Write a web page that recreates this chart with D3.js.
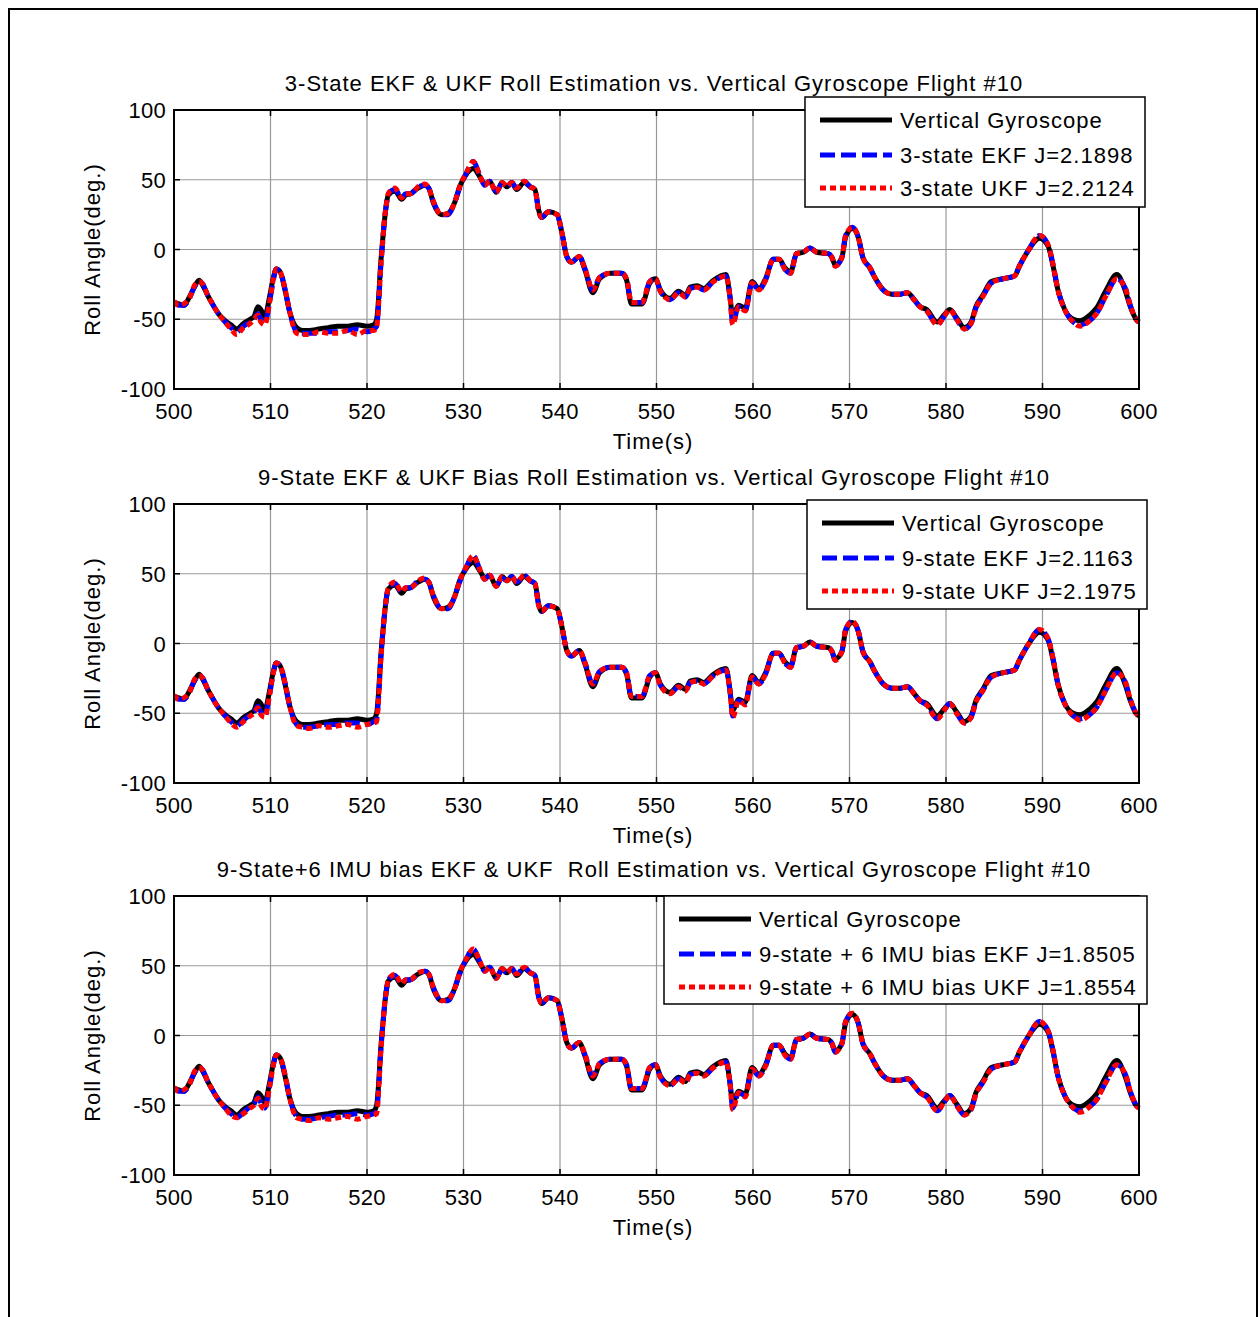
<!DOCTYPE html>
<html>
<head>
<meta charset="utf-8">
<script src="https://cdn.jsdelivr.net/npm/d3@7"></script>
<style>
  html, body { margin: 0; padding: 0; background: #fff; }
  svg { display: block; font-family: "Liberation Sans", Arial, Helvetica, sans-serif; }
  .lbl { letter-spacing: 1px; }
  .num { letter-spacing: 0.3px; }
</style>
</head>
<body>
<svg id="fig" width="1259" height="1317"></svg>
<script>
// Flight #10 roll angle, 500–600 s (deg.)
const timeS = [
  500.0,500.5,501.0,501.6,502.1,502.6,503.0,503.5,503.9,504.6,
  505.3,505.9,506.5,507.2,507.9,508.3,508.7,509.0,509.4,509.9,
  510.3,510.6,511.0,511.5,512.0,512.7,513.3,514.0,515.0,516.0,
  517.0,518.0,519.0,520.0,520.7,521.0,521.2,521.4,521.6,521.8,
  522.0,522.2,522.9,523.6,524.0,524.5,525.3,526.0,526.4,526.9,
  527.7,528.4,529.1,529.6,530.3,531.0,531.7,532.2,532.7,533.4,
  534.0,534.5,535.0,535.5,536.3,536.9,537.4,537.8,538.1,538.8,
  539.7,540.2,540.7,541.2,542.0,542.6,543.4,544.1,545.2,546.4,
  546.9,547.4,548.5,549.3,549.9,550.4,551.4,552.3,553.0,553.5,
  554.2,554.9,555.9,557.2,557.6,557.9,558.5,559.2,559.9,560.6,
  561.3,562.1,562.7,563.3,563.9,564.5,565.2,565.9,566.6,567.8,
  568.2,568.5,569.2,569.6,570.3,570.9,571.4,572.1,572.7,573.5,
  574.4,575.3,576.0,576.7,577.3,578.0,579.1,579.8,580.4,581.1,
  581.9,582.6,583.1,583.8,584.7,585.9,587.1,587.6,588.5,589.7,
  590.6,591.1,591.6,592.3,593.2,593.9,594.9,595.6,596.6,597.7,
  598.6,599.1,599.7,600.0
];

// Vertical gyroscope reference
const gyroRoll = [
  -38,-39,-40,-34,-27,-22,-26,-33,-38,-46,
  -51,-54,-57,-53,-50,-48,-41,-43,-48,-34,
  -20,-14,-16,-29,-45,-56,-58,-58,-57,-56,
  -55,-55,-54,-55,-54,-50,-35,-12,5,20,
  32,39,42,36,39,40,44,46,44,33,
  25,26,34,45,54,58,52,47,49,41,
  48,45,48,43,48,45,43,28,23,27,
  25,12,-5,-9,-5,-15,-31,-21,-17,-17,
  -22,-39,-39,-24,-21,-29,-35,-30,-33,-27,
  -26,-28,-22,-18,-33,-48,-40,-42,-23,-28,
  -21,-7,-7,-13,-16,-3,-2,1,-2,-3,
  -6,-11,-6,9,15,9,-6,-13,-21,-29,
  -32,-32,-31,-36,-41,-43,-52,-47,-43,-49,
  -56,-52,-41,-33,-23,-21,-19,-12,-1,8,
  2,-12,-29,-43,-50,-51,-47,-42,-29,-18,
  -30,-41,-50,-52
];

// 3-state filters
const ekf3 = [
  -38,-40,-40,-35,-27,-23,-25,-33,-38,-46,
  -52,-56,-59,-55,-52,-50,-46,-50,-53,-38,
  -22,-14,-16,-28,-45,-59,-60,-60,-60,-59,
  -59,-58,-57,-59,-57,-55,-40,-15,3,20,
  32,40,43,37,40,40,45,46,44,34,
  25,25,34,44,55,63,53,46,49,42,
  47,45,48,44,49,45,43,27,23,27,
  25,12,-5,-9,-5,-14,-29,-20,-17,-17,
  -21,-38,-38,-23,-21,-30,-36,-31,-34,-28,
  -27,-29,-23,-19,-33,-53,-41,-44,-24,-29,
  -22,-7,-7,-14,-17,-3,-2,1,-2,-3,
  -6,-12,-6,10,16,9,-6,-13,-21,-29,
  -32,-32,-31,-36,-41,-44,-54,-48,-43,-50,
  -57,-53,-42,-34,-24,-21,-19,-12,-1,10,
  3,-11,-29,-43,-52,-54,-51,-46,-33,-21,
  -28,-40,-50,-52
];
const ukf3 = [
  -37,-40,-39,-35,-26,-23,-25,-33,-38,-46,
  -52,-57,-61,-56,-53,-50,-47,-52,-54,-38,
  -21,-14,-16,-28,-45,-60,-61,-61,-59,-60,
  -60,-58,-61,-58,-58,-56,-40,-15,3,21,
  32,40,44,37,40,40,45,47,44,34,
  25,26,34,45,55,63,53,46,49,41,
  48,45,48,44,49,45,43,27,23,27,
  25,12,-5,-9,-5,-14,-29,-20,-17,-17,
  -21,-38,-38,-23,-21,-30,-36,-31,-34,-28,
  -27,-29,-23,-19,-33,-54,-41,-44,-24,-29,
  -22,-7,-7,-14,-17,-3,-2,1,-2,-3,
  -6,-12,-6,10,16,9,-6,-13,-21,-29,
  -32,-32,-31,-36,-41,-44,-54,-48,-43,-50,
  -57,-53,-42,-34,-24,-21,-19,-12,-1,10,
  3,-11,-29,-43,-52,-55,-51,-46,-33,-21,
  -28,-40,-50,-52
];

// 9-state bias filters
const ekf9 = [
  -38,-40,-40,-35,-27,-23,-25,-33,-38,-46,
  -52,-56,-59,-55,-51,-49,-45,-49,-52,-37,
  -21,-14,-16,-28,-45,-58,-60,-60,-59,-58,
  -58,-57,-57,-58,-56,-54,-39,-14,4,20,
  32,40,43,37,40,40,45,46,44,34,
  25,25,34,44,55,63,53,46,49,42,
  47,45,48,44,49,45,43,27,23,27,
  25,12,-5,-9,-5,-14,-29,-20,-17,-17,
  -21,-38,-38,-23,-21,-30,-36,-31,-34,-28,
  -27,-29,-23,-19,-33,-52,-41,-43,-24,-29,
  -22,-7,-7,-14,-17,-3,-2,1,-2,-3,
  -6,-12,-6,10,16,9,-6,-13,-21,-29,
  -32,-32,-31,-36,-41,-44,-54,-48,-43,-50,
  -57,-53,-42,-34,-24,-21,-19,-12,-1,10,
  3,-11,-29,-43,-52,-54,-51,-46,-33,-21,
  -28,-40,-50,-52
];
const ukf9 = [
  -37,-40,-39,-35,-26,-23,-25,-33,-38,-46,
  -52,-57,-60,-56,-52,-50,-46,-51,-53,-37,
  -21,-14,-16,-28,-45,-59,-60,-61,-59,-60,
  -59,-58,-60,-58,-57,-56,-40,-15,3,21,
  32,40,44,37,40,40,45,47,44,34,
  25,26,34,45,55,63,53,46,49,41,
  48,45,48,44,49,45,43,27,23,27,
  25,12,-5,-9,-5,-14,-29,-20,-17,-17,
  -21,-38,-38,-23,-21,-30,-36,-31,-34,-28,
  -27,-29,-23,-19,-33,-53,-41,-44,-24,-29,
  -22,-7,-7,-14,-17,-3,-2,1,-2,-3,
  -6,-12,-6,10,16,9,-6,-13,-21,-29,
  -32,-32,-31,-36,-41,-44,-54,-48,-43,-50,
  -57,-53,-42,-34,-24,-21,-19,-12,-1,10,
  3,-11,-29,-43,-52,-55,-51,-46,-33,-21,
  -28,-40,-50,-52
];

// 9-state + 6 IMU bias filters
const ekf15 = [
  -38,-40,-40,-35,-27,-23,-25,-33,-38,-46,
  -52,-56,-59,-55,-51,-49,-44,-48,-52,-37,
  -21,-14,-16,-28,-45,-58,-60,-60,-59,-58,
  -57,-57,-56,-57,-56,-54,-39,-14,4,20,
  32,40,43,37,40,40,44,46,44,34,
  25,25,34,44,55,62,53,46,49,42,
  47,45,48,44,49,45,43,27,23,27,
  25,12,-5,-9,-5,-14,-29,-20,-17,-17,
  -21,-38,-38,-23,-21,-30,-36,-31,-34,-28,
  -27,-29,-23,-19,-33,-52,-41,-43,-24,-29,
  -22,-7,-7,-14,-17,-3,-2,1,-2,-3,
  -6,-12,-6,10,16,9,-6,-13,-21,-29,
  -32,-32,-31,-36,-41,-44,-54,-48,-43,-50,
  -57,-53,-42,-34,-24,-21,-19,-12,-1,10,
  3,-11,-29,-43,-52,-54,-51,-46,-33,-21,
  -28,-40,-50,-52
];
const ukf15 = [
  -37,-40,-39,-35,-26,-23,-25,-33,-38,-46,
  -52,-57,-59,-56,-52,-50,-45,-50,-53,-37,
  -21,-14,-16,-28,-45,-59,-60,-61,-59,-60,
  -59,-58,-60,-58,-57,-56,-40,-15,3,21,
  32,40,44,37,40,40,45,46,44,34,
  25,26,34,45,55,62,53,46,49,41,
  48,45,48,44,49,45,43,27,23,27,
  25,12,-5,-9,-5,-14,-29,-20,-17,-17,
  -21,-38,-38,-23,-21,-30,-36,-31,-34,-28,
  -27,-29,-23,-19,-33,-53,-41,-44,-24,-29,
  -22,-7,-7,-14,-17,-3,-2,1,-2,-3,
  -6,-12,-6,10,16,9,-6,-13,-21,-29,
  -32,-32,-31,-36,-41,-44,-54,-48,-43,-50,
  -57,-53,-42,-34,-24,-21,-19,-12,-1,10,
  3,-11,-29,-43,-52,-55,-51,-46,-33,-21,
  -28,-40,-50,-52
];

const xTicks = [500,510,520,530,540,550,560,570,580,590,600];
const yTicks = [-100,-50,0,50,100];

const panelTitles = [
  "3-State EKF & UKF Roll Estimation vs. Vertical Gyroscope Flight #10",
  "9-State EKF & UKF Bias Roll Estimation vs. Vertical Gyroscope Flight #10",
  "9-State+6 IMU bias EKF & UKF\u00a0 Roll Estimation vs. Vertical Gyroscope Flight #10"
];
const legendLabels = [
  ["Vertical Gyroscope", "3-state EKF J=2.1898", "3-state UKF J=2.2124"],
  ["Vertical Gyroscope", "9-state EKF J=2.1163", "9-state UKF J=2.1975"],
  ["Vertical Gyroscope", "9-state + 6 IMU bias EKF J=1.8505", "9-state + 6 IMU bias UKF J=1.8554"]
];
const ekfSeries = [ekf3, ekf9, ekf15];
const ukfSeries = [ukf3, ukf9, ukf15];

// ---- layout ----
const svg = d3.select("#fig");
const X0 = 174, X1 = 1139;
const panels = [
  { top: 110, bottom: 389, legend: { x: 805, y: 97, w: 340, h: 110 } },
  { top: 504, bottom: 783, legend: { x: 807, y: 500, w: 340, h: 109 } },
  { top: 896, bottom: 1175, legend: { x: 664, y: 896, w: 483, h: 108 } }
];

// outer figure frame
svg.append("rect")
  .attr("x", 9).attr("y", 9).attr("width", 1248).attr("height", 1330)
  .attr("fill", "none").attr("stroke", "#000").attr("stroke-width", 2);

const styles = [
  { key: "gyro",  color: "#000",    width: 5, dash: null },
  { key: "ekf",   color: "#0000ff", width: 5, dash: "15,6" },
  { key: "ukf",   color: "#ff0000", width: 5, dash: "6,4" }
];

panels.forEach((p, i) => {
  const x = d3.scaleLinear().domain([500, 600]).range([X0, X1]);
  const y = d3.scaleLinear().domain([-100, 100]).range([p.bottom, p.top]);
  const g = svg.append("g");

  // grid
  g.append("g").selectAll("line").data(xTicks.slice(1, -1)).join("line")
    .attr("x1", d => x(d)).attr("x2", d => x(d))
    .attr("y1", p.top).attr("y2", p.bottom)
    .attr("stroke", "#999").attr("stroke-width", 1.2);
  g.append("g").selectAll("line").data(yTicks.slice(1, -1)).join("line")
    .attr("x1", X0).attr("x2", X1)
    .attr("y1", d => y(d)).attr("y2", d => y(d))
    .attr("stroke", "#999").attr("stroke-width", 1.2);

  // data lines
  const clipId = "clip" + i;
  svg.append("clipPath").attr("id", clipId).append("rect")
    .attr("x", X0).attr("y", p.top - 4).attr("width", X1 - X0 + 2).attr("height", p.bottom - p.top + 8);

  const line = d3.line()
    .x(d => x(d[0])).y(d => y(d[1]))
    .curve(d3.curveMonotoneX);

  const series = [gyroRoll, ekfSeries[i], ukfSeries[i]];
  const lg = g.append("g").attr("clip-path", `url(#${clipId})`);
  series.forEach((vals, k) => {
    const st = styles[k];
    lg.append("path")
      .attr("d", line(timeS.map((t, j) => [t, vals[j]])))
      .attr("fill", "none")
      .attr("stroke", st.color)
      .attr("stroke-width", st.width)
      .attr("stroke-linejoin", "round")
      .attr("stroke-dasharray", st.dash);
  });

  // axes box
  g.append("rect")
    .attr("x", X0).attr("y", p.top).attr("width", X1 - X0).attr("height", p.bottom - p.top)
    .attr("fill", "none").attr("stroke", "#000").attr("stroke-width", 2);

  // inward ticks
  const tk = 6;
  xTicks.forEach(t => {
    g.append("line").attr("x1", x(t)).attr("x2", x(t)).attr("y1", p.bottom).attr("y2", p.bottom - tk)
      .attr("stroke", "#000").attr("stroke-width", 1.5);
    g.append("line").attr("x1", x(t)).attr("x2", x(t)).attr("y1", p.top).attr("y2", p.top + tk)
      .attr("stroke", "#000").attr("stroke-width", 1.5);
  });
  yTicks.forEach(v => {
    g.append("line").attr("x1", X0).attr("x2", X0 + tk).attr("y1", y(v)).attr("y2", y(v))
      .attr("stroke", "#000").attr("stroke-width", 1.5);
    g.append("line").attr("x1", X1).attr("x2", X1 - tk).attr("y1", y(v)).attr("y2", y(v))
      .attr("stroke", "#000").attr("stroke-width", 1.5);
  });

  // tick labels
  g.append("g").selectAll("text").data(xTicks).join("text")
    .attr("class", "num")
    .attr("x", d => x(d)).attr("y", p.bottom + 30)
    .attr("text-anchor", "middle").attr("font-size", 22).text(d => d);
  g.append("g").selectAll("text").data(yTicks).join("text")
    .attr("class", "num")
    .attr("x", 166).attr("y", d => y(d) + 8)
    .attr("text-anchor", "end").attr("font-size", 22).text(d => d);

  // axis labels and title
  g.append("text").attr("class", "lbl").attr("x", 653).attr("y", p.bottom + 60)
    .attr("text-anchor", "middle").attr("font-size", 22).text("Time(s)");
  g.append("text").attr("class", "lbl")
    .attr("transform", `translate(100,${(p.top + p.bottom) / 2}) rotate(-90)`)
    .attr("text-anchor", "middle").attr("font-size", 22).text("Roll Angle(deg.)");
  g.append("text").attr("class", "lbl").attr("x", 654).attr("y", p.top - 19)
    .attr("text-anchor", "middle").attr("font-size", 22).text(panelTitles[i]);

  // legend
  const L = p.legend;
  const leg = g.append("g");
  leg.append("rect").attr("x", L.x).attr("y", L.y).attr("width", L.w).attr("height", L.h)
    .attr("fill", "#fff").attr("stroke", "#000").attr("stroke-width", 1.5);
  const rowY = [23, 58, 91];
  legendLabels[i].forEach((lab, k) => {
    const st = styles[k];
    const cy = L.y + rowY[k];
    leg.append("line")
      .attr("x1", L.x + 15).attr("x2", L.x + 87).attr("y1", cy).attr("y2", cy)
      .attr("stroke", st.color).attr("stroke-width", st.width)
      .attr("stroke-dasharray", st.dash);
    leg.append("text").attr("class", "lbl").attr("x", L.x + 95).attr("y", cy + 8)
      .attr("font-size", 22).text(lab);
  });
});
</script>
</body>
</html>
